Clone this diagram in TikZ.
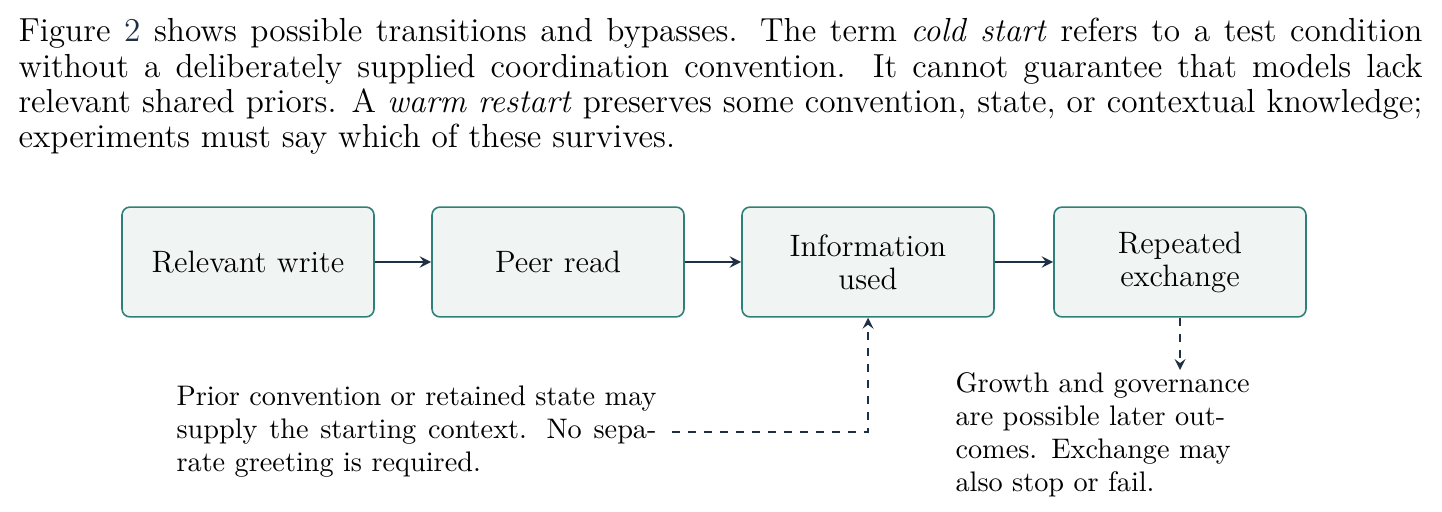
\documentclass[tikz,border=0pt]{standalone}
\usepackage{xcolor}
\usepackage{tikz}
\definecolor{boxfill}{RGB}{240,244,243}
\definecolor{boxline}{RGB}{47,128,120}
\definecolor{navy}{RGB}{30,48,70}
\usetikzlibrary{arrows,positioning,calc}

\begin{document}
\begin{tikzpicture}[
    x=0.375pt, y=-0.375pt,
    stage/.style={
        rectangle,
        rounded corners=3pt,
        minimum width=94.5pt,
        minimum height=41.2pt,
        text width=85pt,
        align=center,
        fill=boxfill,
        draw=boxline,
        line width=0.6pt,
        font=\fontsize{11.6}{12.4}\selectfont
    },
    flow/.style={->,>=stealth,line width=0.9pt,navy},
    bypass/.style={->,>=stealth,line width=0.8pt,navy,dashed},
    note/.style={text width=#1, inner sep=0pt, font=\fontsize{10.6}{12.4}\selectfont}
]
    \useasboundingbox (0,0) rectangle (1442,512);

    % Paragraph
    \node[anchor=north west, inner sep=0pt, text width=526.5pt, align=justify,
          font=\fontsize{12.5}{13.2}\selectfont] (para) at (18,18) {%
        Figure \textcolor{navy}{2} shows possible transitions and bypasses. The term \textit{cold start} refers to a test condition without a deliberately supplied coordination convention. It cannot guarantee that models lack relevant shared priors. A \textit{warm restart} preserves some convention, state, or contextual knowledge; experiments must say which of these survives.};

    % Stages
    \node[stage] (write) at (248,262) {Relevant write};
    \node[stage] (read) at (558,262) {Peer read};
    \node[stage] (used) at (868,262) {Information\\used};
    \node[stage] (repeat) at (1180,262) {Repeated\\exchange};

    % Arrows
    \draw[flow] (write) -- (read);
    \draw[flow] (read) -- (used);
    \draw[flow] (used) -- (repeat);

    % Notes
    \node[note=180pt, anchor=north west, align=justify] (warm) at (176,385) {Prior convention or retained state may supply the starting context. No separate greeting is required.};
    \node[note=122pt, anchor=north west, align=left] (later) at (955,372) {Growth and governance are possible later outcomes. Exchange may also stop or fail.};

    \coordinate (warmend) at (672,432);
    \coordinate (laterend) at (1180,370);
    \draw[bypass] (warmend) -| (used);
    \draw[bypass] (repeat) -- (laterend);
\end{tikzpicture}
\end{document}
